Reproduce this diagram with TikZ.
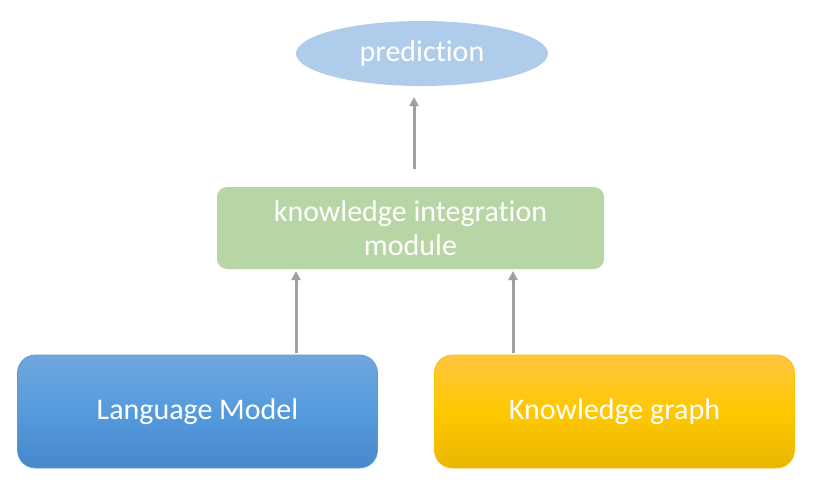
\documentclass[tikz,border=0pt]{standalone}
\usepackage{fontspec}
\setmainfont[Ligatures=NoCommon]{Carlito}
\usetikzlibrary{shapes.geometric,arrows.meta}
\definecolor{ellblue}{HTML}{AFCDEA}
\definecolor{boxgreen}{HTML}{B8D6A5}
\definecolor{bluetop}{HTML}{6FA6DD}
\definecolor{bluemid}{HTML}{559BDE}
\definecolor{bluebot}{HTML}{4788CA}
\definecolor{blueedge}{HTML}{5B9BD5}
\definecolor{yeltop}{HTML}{FFC640}
\definecolor{yelmid}{HTML}{FFC800}
\definecolor{yelbot}{HTML}{E8B600}
\definecolor{yeledge}{HTML}{FFC000}
\definecolor{arrgray}{HTML}{A0A0A0}
\tikzset{
  lbl/.style={text=white, font=\fontsize{30}{34}\selectfont, align=center},
  conn/.style={draw=arrgray, line width=3pt, -{Triangle[length=9pt,width=9pt]}},
}
\begin{document}
\begin{tikzpicture}[x=1pt,y=-1pt]
\useasboundingbox (0,0) rectangle (827,488);
\node[ellipse, fill=ellblue, minimum width=252pt, minimum height=65pt, inner sep=0pt, lbl] (pred) at (422,53.5) {prediction};
\node[rounded corners=10pt, fill=boxgreen, minimum width=387pt, minimum height=82pt, inner sep=0pt, lbl] (kim) at (410.5,228) {knowledge integration\\module};
\node[rounded corners=18pt, draw=blueedge, line width=0.8pt, top color=bluetop, bottom color=bluebot, middle color=bluemid, minimum width=360pt, minimum height=113pt, inner sep=0pt, lbl] (lm) at (197.5,411.5) {Language Model};
\node[rounded corners=18pt, draw=yeledge, line width=0.8pt, top color=yeltop, bottom color=yelbot, middle color=yelmid, minimum width=360pt, minimum height=113pt, inner sep=0pt, lbl] (kg) at (614.5,411.5) {Knowledge graph};
\coordinate (a1s) at (414,169);
\coordinate (a1e) at (414,97);
\draw[conn] (a1s) -- (a1e);
\draw[conn] (lm.north -| 296,0) ++(0,-2) -- (296,271);
\draw[conn] (kg.north -| 513,0) ++(0,-2) -- (513,271);
\end{tikzpicture}
\end{document}
